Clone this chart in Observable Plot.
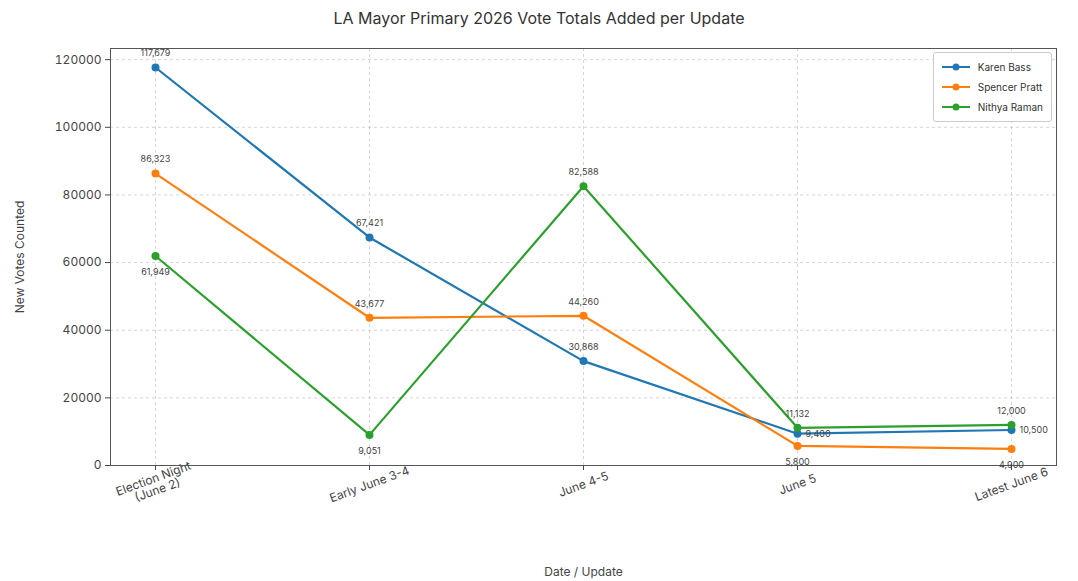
<!DOCTYPE html>
<html><head><meta charset="utf-8">
<script src="https://cdn.jsdelivr.net/npm/d3@7"></script>
<script src="https://cdn.jsdelivr.net/npm/@observablehq/plot@0.6"></script>
<style>
body{margin:0;background:#fff;font-family:Inter,"Noto Sans",sans-serif;}
#title{height:30px;line-height:36px;text-align:center;font-size:16px;color:#333;}
#wrap{position:relative;width:1078px;}
#legend{position:absolute;top:22px;right:26px;border:1px solid #ccc;border-radius:3px;background:#fff;padding:4px 8px;font-size:10px;color:#333;}
#legend div{display:flex;align-items:center;height:20px;}
#legend svg{margin-right:8px;}
</style></head><body>
<div id="title">LA Mayor Primary 2026 Vote Totals Added per Update</div>
<div id="wrap"><div id="chart"></div><div id="legend"></div></div>
<script>
const updates = ["Election Night\n(June 2)", "Early June 3-4", "June 4-5", "June 5", "Latest June 6"];
const candidates = ["Karen Bass", "Spencer Pratt", "Nithya Raman"];
const colors = ["#1f77b4", "#ff7f0e", "#2ca02c"];
const bass = [117679, 67421, 30868, 9400, 10500];
const pratt = [86323, 43677, 44260, 5800, 4900];
const raman = [61949, 9051, 82588, 11132, 12000];
const yTicks = [0, 20000, 40000, 60000, 80000, 100000, 120000];

const series = [bass, pratt, raman];
const data = [];
series.forEach((vals, i) => vals.forEach((v, j) => {
  let pos = "above";
  if (i === 2 && (j === 0 || j === 1)) pos = "below";
  if (i === 1 && j >= 3) pos = "below";
  if (i === 0 && j >= 3) pos = "right";
  data.push({cand: candidates[i], upd: updates[j], v, pos});
}));
const fmt = d3.format(",");
const txt = (pos, opts) => Plot.text(data.filter(d => d.pos === pos), {x: "upd", y: "v", text: d => fmt(d.v), fontSize: 9, fill: "#444", ...opts});

const chart = Plot.plot({
  width: 1078, height: 551,
  marginTop: 18, marginBottom: 116, marginLeft: 110, marginRight: 22,
  style: {fontFamily: "Inter, sans-serif", fontSize: "12px", color: "#444"},
  x: {type: "point", domain: updates, padding: 0.2, label: "Date / Update", labelAnchor: "center", labelOffset: 110, tickRotate: -20, tickSize: 5, tickPadding: 14},
  y: {domain: [0, 123300], ticks: yTicks, tickFormat: d => String(d), label: "New Votes Counted", labelAnchor: "center", labelOffset: 95, labelArrow: "none", tickSize: 5},
  color: {domain: candidates, range: colors},
  marks: [
    Plot.gridX(updates, {x: d => d, stroke: "#bbb", strokeDasharray: "3,3", strokeOpacity: 0.6}),
    Plot.gridY(yTicks, {y: d => d, stroke: "#bbb", strokeDasharray: "3,3", strokeOpacity: 0.6}),
    Plot.frame({stroke: "#555"}),
    Plot.line(data, {x: "upd", y: "v", z: "cand", stroke: "cand", strokeWidth: 2.2}),
    Plot.dot(data, {x: "upd", y: "v", fill: "cand", r: 4}),
    txt("above", {dy: -14}),
    txt("below", {dy: 16}),
    txt("right", {dx: 8, textAnchor: "start"})
  ]
});
chart.querySelectorAll('[aria-label="x-axis tick label"] text').forEach(t => t.setAttribute("text-anchor", "middle"));
document.getElementById("chart").appendChild(chart);
const lg = document.getElementById("legend");
candidates.forEach((c, i) => {
  lg.insertAdjacentHTML("beforeend", `<div><svg width="28" height="10"><line x1="0" x2="28" y1="5" y2="5" stroke="${colors[i]}" stroke-width="2"/><circle cx="14" cy="5" r="3.5" fill="${colors[i]}"/></svg>${c}</div>`);
});
</script></body></html>
